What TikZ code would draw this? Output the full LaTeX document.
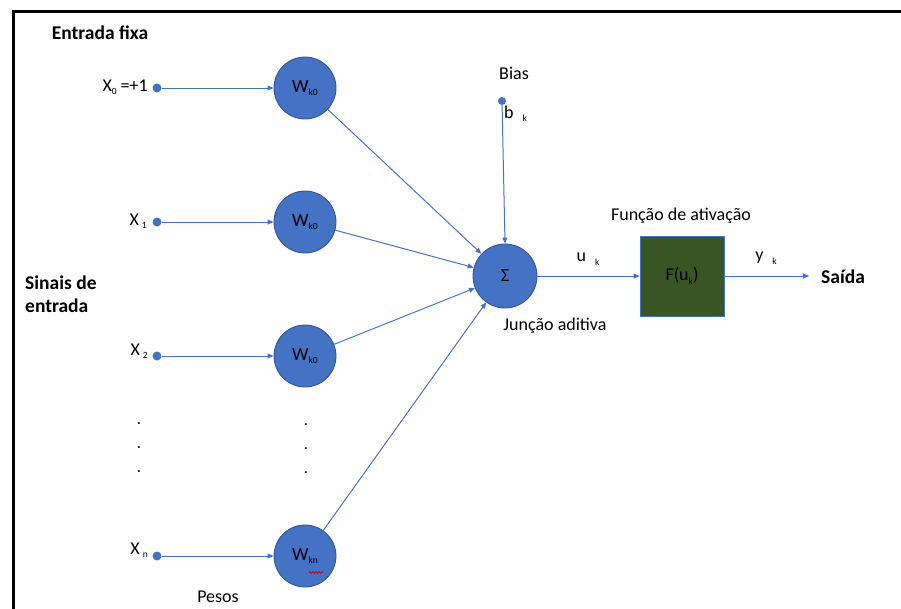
\documentclass[tikz,border=0pt]{standalone}
\usepackage{fontspec}
\setmainfont{Carlito}
\usetikzlibrary{arrows.meta,decorations.pathmorphing}
\definecolor{nblue}{HTML}{4472C4}
\definecolor{nedge}{HTML}{2F528F}
\definecolor{ngreen}{HTML}{375623}
\tikzset{
  wnode/.style={circle,fill=nblue,draw=nedge,line width=0.8pt,minimum size=62pt,inner sep=0pt,font=\fontsize{18.5}{20}\selectfont},
  indot/.style={circle,fill=nblue,inner sep=0pt,minimum size=9pt},
  link/.style={draw=nblue,line width=1pt,-{Triangle[length=6pt,width=5pt]}},
  lbl/.style={font=\fontsize{18}{20}\selectfont,inner sep=0pt},
  blbl/.style={font=\fontsize{19.5}{23}\selectfont\bfseries,inner sep=0pt,align=left},
  sdot/.style={font=\fontsize{17}{18}\selectfont,inner sep=0pt}
}
\newcommand{\sbs}[1]{\raisebox{-0.4ex}{\fontsize{9.5}{10}\selectfont #1}}
\begin{document}
\begin{tikzpicture}[x=1pt,y=-1pt]
\useasboundingbox (0,0) rectangle (901,608);
% frame
\draw[line width=3.5pt,line cap=rect] (13.5,620) -- (13.5,11.5) -- (920,11.5);

% input points
\node[indot] (x0) at (157,88) {};
\node[indot] (x1) at (157,222) {};
\node[indot] (x2) at (157,356) {};
\node[indot] (xn) at (157,556) {};
\node[lbl,anchor=east] (lx0) at (148,87) {X\sbs{0} =+1};
\node[lbl,anchor=east] (lx1) at (147,221) {X\,\sbs{1}};
\node[lbl,anchor=east] (lx2) at (148,351) {X\,\sbs{2}};
\node[lbl,anchor=east] (lxn) at (148,550) {X\,\sbs{n}};

% weights
\node[wnode] (w0) at (305,88) {W\sbs{k0}};
\node[wnode] (w1) at (305,222) {W\sbs{k0}};
\node[wnode] (w2) at (305,356) {W\sbs{k0}};
\node[wnode] (wn) at (305,556) {W\sbs{kn}};
\draw[red!80!black,line width=0.7pt,decorate,decoration={snake,amplitude=0.9pt,segment length=3pt}] (309,572.5) -- (323,572.5);

\draw[link] (x0) -- (w0);
\draw[link] (x1) -- (w1);
\draw[link] (x2) -- (w2);
\draw[link] (xn) -- (wn);

% summing junction
\node[wnode,minimum size=64pt] (sum) at (505,276) {Σ};
\draw[link] (w0) -- (sum);
\draw[link] (w1) -- (sum);
\draw[link] (w2) -- (sum);
\draw[link] (wn) -- (sum);

% bias
\node[circle,fill=nblue,inner sep=0pt,minimum size=8pt] (b) at (502,101) {};
\draw[link] (b) -- (sum.north);
\node[lbl] (lbias) at (514,73) {Bias};
\node[lbl,anchor=west] (lb) at (504,114) {b\,\,\,\sbs{k}};

% activation
\node[draw=nblue,fill=ngreen,line width=0.8pt,minimum width=84pt,minimum height=80pt,inner sep=0pt,
      font=\fontsize{18}{20}\selectfont] (f) at (682,276) {F(u\sbs{k})};
\draw[link] (sum) -- (f);
\node[lbl] (lu) at (588,259) {u\,\,\,\sbs{k}};
\node[lbl] (lfun) at (681,216) {Função de ativação};
\node[lbl] (ljun) at (555,326) {Junção aditiva};

% output
\coordinate (out) at (809,276);
\draw[link] (f) -- (out);
\node[lbl] (ly) at (766,258) {y\,\,\,\sbs{k}};
\node[blbl,anchor=west] (lsaida) at (821,277) {Saída};

% captions
\node[blbl] (lfixa) at (100,33) {Entrada fixa};
\node[blbl,anchor=west] (lsinais) at (25,294) {Sinais de\\entrada};
\node[lbl] (lpesos) at (218,597) {Pesos};

% ellipsis dots
\foreach \yy [count=\i] in {424,448,472}{
  \node[sdot] (dl\i) at (139,\yy) {.};
  \node[sdot] (dr\i) at (306,\yy+1) {.};
}
\end{tikzpicture}
\end{document}
